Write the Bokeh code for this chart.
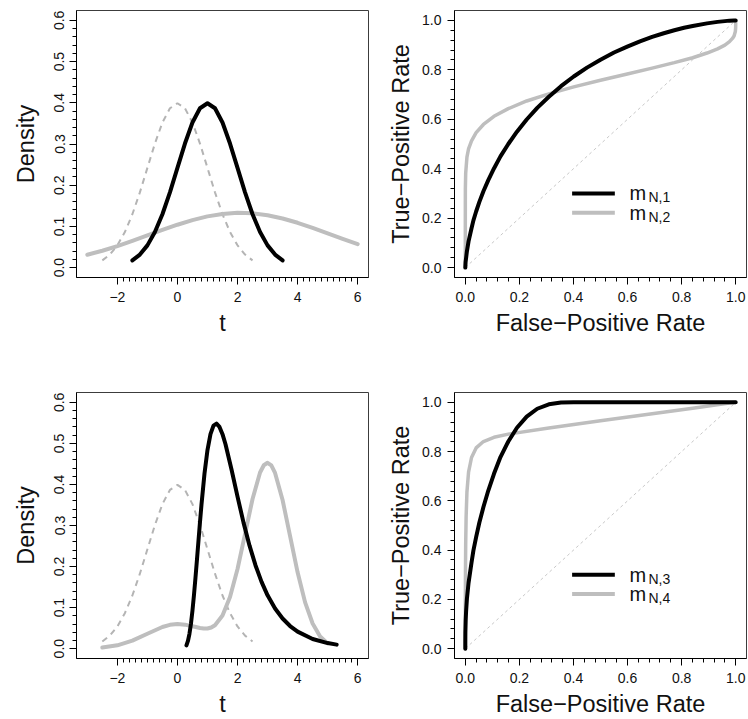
from bokeh.plotting import figure
from bokeh.layouts import row, column
from bokeh.models import Range1d, FixedTicker, NumeralTickFormatter, CustomJSTickFormatter
from bokeh.core.properties import value
from bokeh.embed import file_html
from bokeh.resources import INLINE

# ---------------- data ----------------
# reference density N(0,1) (dashed) used in both density panels
ref_t = [-2.5, -2.25, -2.0, -1.75, -1.5, -1.25, -1.0, -0.75, -0.5, -0.25, 0.0,
         0.25, 0.5, 0.75, 1.0, 1.25, 1.5, 1.75, 2.0, 2.25, 2.5]
ref_d = [0.0175, 0.0317, 0.0540, 0.0863, 0.1295, 0.1826, 0.2420, 0.3011, 0.3521, 0.3867, 0.3989,
         0.3867, 0.3521, 0.3011, 0.2420, 0.1826, 0.1295, 0.0863, 0.0540, 0.0317, 0.0175]

# top-left: m_N,1 (black) and m_N,2 (grey)
m1_t = [-1.5, -1.25, -1.0, -0.75, -0.5, -0.25, 0.0, 0.25, 0.5, 0.75, 1.0,
        1.25, 1.5, 1.75, 2.0, 2.25, 2.5, 2.75, 3.0, 3.25, 3.5]
m1_d = [0.0175, 0.0317, 0.0540, 0.0863, 0.1295, 0.1826, 0.2420, 0.3011, 0.3521, 0.3867, 0.3989,
        0.3867, 0.3521, 0.3011, 0.2420, 0.1826, 0.1295, 0.0863, 0.0540, 0.0317, 0.0175]
m2_t = [-3.0, -2.5, -2.0, -1.5, -1.0, -0.5, 0.0, 0.5, 1.0, 1.5, 2.0,
        2.5, 3.0, 3.5, 4.0, 4.5, 5.0, 5.5, 6.0]
m2_d = [0.0313, 0.0410, 0.0523, 0.0647, 0.0780, 0.0913, 0.1041, 0.1153, 0.1243, 0.1303, 0.1329,
        0.1318, 0.1271, 0.1192, 0.1088, 0.0966, 0.0833, 0.0700, 0.0571]

# top-right: ROC curves
roc1_fpr = [0.0, 0.0002, 0.001, 0.003, 0.006, 0.012, 0.023, 0.030, 0.040, 0.052, 0.067, 0.085,
            0.106, 0.130, 0.159, 0.191, 0.227, 0.266, 0.309, 0.354, 0.401, 0.450, 0.500, 0.550,
            0.599, 0.646, 0.691, 0.734, 0.773, 0.809, 0.841, 0.894, 0.933, 0.960, 0.977, 0.994, 1.0]
roc1_tpr = [0.0, 0.006, 0.023, 0.040, 0.067, 0.106, 0.159, 0.191, 0.227, 0.266, 0.309, 0.354,
            0.401, 0.450, 0.500, 0.550, 0.599, 0.646, 0.691, 0.734, 0.773, 0.809, 0.841, 0.870,
            0.894, 0.915, 0.933, 0.948, 0.960, 0.970, 0.977, 0.988, 0.994, 0.997, 0.999, 1.0, 1.0]
roc2_fpr = [0.0, 0.0, 0.0, 0.0, 0.0, 0.0001, 0.0002, 0.0014, 0.006, 0.012, 0.023, 0.040,
            0.067, 0.106, 0.159, 0.227, 0.309, 0.401, 0.500, 0.599, 0.691, 0.773, 0.841, 0.894,
            0.933, 0.960, 0.977, 0.988, 0.994, 0.9987, 0.9998, 1.0, 1.0, 1.0, 1.0]
roc2_tpr = [0.0, 0.004, 0.025, 0.097, 0.167, 0.263, 0.320, 0.382, 0.447, 0.480, 0.513, 0.546,
            0.579, 0.612, 0.643, 0.674, 0.703, 0.731, 0.758, 0.783, 0.807, 0.829, 0.849, 0.868,
            0.885, 0.900, 0.914, 0.927, 0.937, 0.955, 0.969, 0.979, 0.991, 0.997, 1.0]

# bottom-left: m_N,3 (black) and m_N,4 (grey)
m3_t = [0.3, 0.35, 0.4, 0.45, 0.5, 0.55, 0.6, 0.65, 0.7, 0.75, 0.8, 0.9, 1.0, 1.1, 1.2, 1.3,
        1.4, 1.5, 1.6, 1.8, 2.0, 2.2, 2.4, 2.6, 2.8, 3.0, 3.25, 3.5, 3.75, 4.0, 4.5, 5.0, 5.3]
m3_d = [0.0080, 0.0187, 0.0361, 0.0608, 0.0926, 0.1303, 0.1724, 0.2170, 0.2626, 0.3076, 0.3505,
        0.4260, 0.4839, 0.5227, 0.5434, 0.5482, 0.5402, 0.5225, 0.4978, 0.4365, 0.3703, 0.3070,
        0.2508, 0.2027, 0.1626, 0.1299, 0.0977, 0.0734, 0.0551, 0.0415, 0.0236, 0.0136, 0.0098]
m4_t = [-2.5, -2.0, -1.5, -1.0, -0.5, -0.25, 0.0, 0.25, 0.5, 0.75, 0.875, 1.0, 1.125, 1.25, 1.5,
        1.75, 2.0, 2.25, 2.5, 2.75, 2.875, 3.0, 3.125, 3.25, 3.5, 3.75, 4.0, 4.25, 4.5, 4.75, 5.0]
m4_d = [0.0026, 0.0081, 0.0194, 0.0363, 0.0528, 0.0580, 0.0600, 0.0585, 0.0546, 0.0502, 0.0490,
        0.0491, 0.0516, 0.0571, 0.0806, 0.1256, 0.1940, 0.2791, 0.3646, 0.4291, 0.4468, 0.4528,
        0.4463, 0.4280, 0.3621, 0.2743, 0.1859, 0.1127, 0.0612, 0.0298, 0.0128]

# bottom-right: ROC curves
roc3_fpr = [0.0, 0.0, 0.00003, 0.0002, 0.0014, 0.003, 0.006, 0.012, 0.023, 0.030, 0.040, 0.052,
            0.067, 0.085, 0.106, 0.130, 0.159, 0.191, 0.227, 0.266, 0.309, 0.354, 0.401, 0.500, 1.0]
roc3_tpr = [0.0, 0.013, 0.038, 0.066, 0.116, 0.153, 0.203, 0.267, 0.350, 0.399, 0.453, 0.512,
            0.575, 0.642, 0.710, 0.778, 0.841, 0.897, 0.942, 0.974, 0.992, 0.999, 1.0, 1.0, 1.0]
roc4_fpr = [0.0, 0.0, 0.0, 0.0, 0.0, 0.0001, 0.0002, 0.0006, 0.0014, 0.003, 0.006, 0.012,
            0.023, 0.040, 0.067, 0.106, 0.159, 0.309, 0.500, 0.691, 0.841, 0.977, 1.0]
roc4_tpr = [0.0, 0.003, 0.019, 0.041, 0.078, 0.135, 0.215, 0.314, 0.425, 0.536, 0.636, 0.717,
            0.776, 0.815, 0.841, 0.858, 0.871, 0.896, 0.925, 0.954, 0.976, 0.997, 1.0]

chance = [0.0, 1.0]

legend_top = ["N,1", "N,2"]
legend_bottom = ["N,3", "N,4"]

density_xticks = [-2, 0, 2, 4, 6]
density_yticks = [0.0, 0.1, 0.2, 0.3, 0.4, 0.5, 0.6]
roc_ticks = [0.0, 0.2, 0.4, 0.6, 0.8, 1.0]

# ---------------- styling ----------------
FONT = "Liberation Sans"
BLACK = "#000000"
GREY = "#bebebe"
DASH_GREY = "#b4b4b4"
TXT = "#111111"

density_xminor = [round(-2 + 0.2 * i, 2) for i in range(41)]
density_yminor = [round(0.02 * i, 2) for i in range(31)]
roc_minor = [round(0.04 * i, 2) for i in range(26)]


def make_fig(w, h, left, right, top, bottom, xr, yr):
    p = figure(width=w, height=h, x_range=Range1d(*xr), y_range=Range1d(*yr),
               output_backend="svg", toolbar_location=None,
               min_border_left=left, min_border_right=right,
               min_border_top=top, min_border_bottom=bottom)
    p.xgrid.visible = False
    p.ygrid.visible = False
    p.outline_line_color = "#3c3c3c"
    p.outline_line_width = 1
    p.background_fill_color = "white"
    p.border_fill_color = "white"
    return p


def style_axis(ax, ticks, minor, label, label_standoff, title_standoff):
    ax.ticker = FixedTicker(ticks=ticks, minor_ticks=minor)
    ax.axis_label = label
    ax.axis_line_color = BLACK
    ax.axis_line_width = 1
    ax.major_tick_line_color = BLACK
    ax.minor_tick_line_color = BLACK
    ax.major_tick_out = 7
    ax.major_tick_in = 0
    ax.minor_tick_out = 4
    ax.minor_tick_in = 0
    ax.major_label_text_font = FONT
    ax.major_label_text_font_size = "14px"
    ax.major_label_text_color = TXT
    ax.major_label_standoff = label_standoff
    ax.axis_label_text_font = FONT
    ax.axis_label_text_font_size = "23.5px"
    ax.axis_label_text_font_style = "normal"
    ax.axis_label_text_color = TXT
    ax.axis_label_standoff = title_standoff


minus_fmt = CustomJSTickFormatter(code="""
    return tick < 0 ? "\\u2212" + Math.abs(tick).toString() : tick.toString();
""")

DX = (-3.36, 6.36)
DY = (-0.024, 0.624)
RR = (-0.04, 1.04)


def density_panel(h, top, bottom, ts, ds, cols):
    p = make_fig(374, h, 76, 6, top, bottom, DX, DY)
    style_axis(p.xaxis[0], density_xticks, density_xminor, "t", 7, 5)
    p.xaxis[0].formatter = minus_fmt
    style_axis(p.yaxis[0], density_yticks, density_yminor, "Density", 5, 13)
    p.yaxis[0].formatter = NumeralTickFormatter(format="0.0")
    p.yaxis[0].major_label_orientation = "vertical"
    p.line(ref_t, ref_d, line_color=DASH_GREY, line_width=2, line_dash="6 5")
    for t, d, c in zip(ts, ds, cols):
        p.line(t, d, line_color=c, line_width=4, line_cap="round", line_join="round")
    return p


def roc_panel(h, top, bottom, fprs, tprs, cols, widths, labels):
    p = make_fig(374, h, 80, 2, top, bottom, RR, RR)
    style_axis(p.xaxis[0], roc_ticks, roc_minor, "False\u2212Positive Rate", 7, 5)
    p.xaxis[0].formatter = NumeralTickFormatter(format="0.0")
    style_axis(p.yaxis[0], roc_ticks, roc_minor, "True\u2212Positive Rate", 6, 5)
    p.yaxis[0].formatter = NumeralTickFormatter(format="0.0")
    p.line(chance, chance, line_color="#c8c8c8", line_width=1, line_dash="3 3")
    for f, t, c, w in zip(fprs, tprs, cols, widths):
        p.line(f, t, line_color=c, line_width=w, line_cap="round", line_join="round")
    # legend (drawn manually so that the subscripts are real text)
    ly = [0.30, 0.222]
    p.segment(x0=[0.395, 0.395], y0=ly, x1=[0.553, 0.553], y1=ly,
              line_color=[BLACK, GREY], line_width=4)
    p.text(x=[0.607, 0.607], y=ly, text=["m", "m"], text_font=value(FONT),
           text_font_size="20px", text_baseline="alphabetic", text_align="left",
           text_color=TXT)
    p.text(x=[0.607, 0.607], y=ly, text=labels, text_font=value(FONT),
           text_font_size="14px", text_baseline="alphabetic", text_align="left",
           x_offset=19, y_offset=4, text_color=TXT)
    return p


TOP_H = 358
BOT_H = 361

p1 = density_panel(TOP_H, 10, 81, [m2_t, m1_t], [m2_d, m1_d], [GREY, BLACK])
p2 = roc_panel(TOP_H, 10, 81, [roc2_fpr, roc1_fpr], [roc2_tpr, roc1_tpr],
               [GREY, BLACK], [3.5, 4], legend_top)
p3 = density_panel(BOT_H, 34, 61, [m4_t, m3_t], [m4_d, m3_d], [GREY, BLACK])
p4 = roc_panel(BOT_H, 34, 61, [roc4_fpr, roc3_fpr], [roc4_tpr, roc3_tpr],
               [GREY, BLACK], [3.5, 4], legend_bottom)

layout = column(row(p1, p2), row(p3, p4))

open("out.html", "w").write(file_html(layout, INLINE))
